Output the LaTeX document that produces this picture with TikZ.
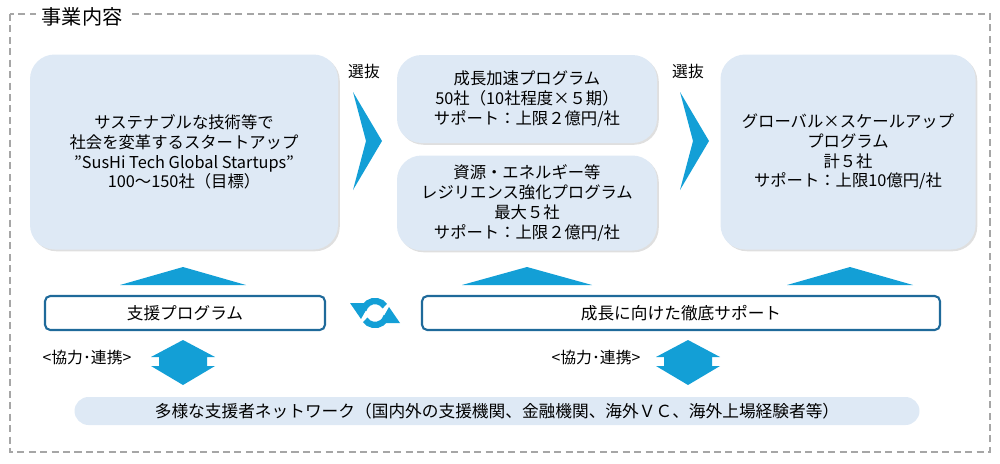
\documentclass[tikz,border=0pt]{standalone}
\usepackage{fontspec}
\setmainfont{Noto Sans CJK JP}
\usetikzlibrary{arrows.meta,shadows}
\definecolor{boxblue}{HTML}{DEE9F5}
\definecolor{arrblue}{HTML}{139FD6}
\definecolor{edgeblue}{HTML}{1F6A9A}
\tikzset{
  bigbox/.style={draw=none, fill=boxblue, rounded corners=14pt, drop shadow={opacity=0.25, shadow xshift=1pt, shadow yshift=-1pt}, align=center, font=\fontsize{9.3}{11.2}\selectfont},
  bar/.style={draw=edgeblue, line width=1.2pt, fill=white, rounded corners=3pt, font=\fontsize{9.5}{11}\selectfont},
  lbl/.style={font=\fontsize{9}{11}\selectfont},
  tri/.style={fill=arrblue, draw=none},
}
\begin{document}
\begin{tikzpicture}[x=0.02cm, y=-0.02cm]
\useasboundingbox (0,0) rectangle (1000,463);
% frame
\draw[gray!70, dashed, line width=1pt, dash pattern=on 4pt off 2.5pt] (10,14) rectangle (990,452);
\node[fill=white, font=\fontsize{11.5}{13}\selectfont, inner xsep=3pt] (title) at (82,17) {事業内容};
% boxes
\node[bigbox, minimum width=308*0.02cm, minimum height=195*0.02cm] (start) at (184,152)
  {サステナブルな技術等で\\社会を変革するスタートアップ\\”SusHi Tech Global Startups”\\100～150社（目標）};
\node[bigbox, minimum width=260*0.02cm, minimum height=88*0.02cm] (accel) at (527,99)
  {成長加速プログラム\\50社（10社程度×５期）\\サポート：上限２億円/社};
\node[bigbox, minimum width=260*0.02cm, minimum height=95*0.02cm] (resil) at (527,203)
  {資源・エネルギー等\\レジリエンス強化プログラム\\最大５社\\サポート：上限２億円/社};
\node[bigbox, minimum width=255*0.02cm, minimum height=195*0.02cm] (global) at (848,152)
  {グローバル×スケールアップ\\プログラム\\計５社\\サポート：上限10億円/社};
% chevrons
\fill[tri] (353,92) -- (382,141) -- (353,190) -- (366,141) -- cycle;
\fill[tri] (680,92) -- (709,141) -- (680,190) -- (693,141) -- cycle;
\node[lbl] (sel1) at (364,72) {選抜};
\node[lbl] (sel2) at (688,72) {選抜};
% up triangles
\fill[tri] (120,285) -- (183,267) -- (246,285) -- cycle;
\fill[tri] (462,285) -- (527,267) -- (592,285) -- cycle;
\fill[tri] (787,285) -- (850,267) -- (913,285) -- cycle;
% bars
\node[bar, minimum width=280*0.02cm, minimum height=34*0.02cm] (supp) at (185,313) {支援プログラム};
\node[bar, minimum width=518*0.02cm, minimum height=34*0.02cm] (grow) at (681,313) {成長に向けた徹底サポート};
% cycle icon
\coordinate (cyc) at (375,313);
\draw[arrblue, line width=3.6pt] ([shift={(35:12*0.02cm)}]cyc) arc[start angle=35, end angle=165, radius=12*0.02cm];
\draw[arrblue, line width=3.6pt] ([shift={(215:12*0.02cm)}]cyc) arc[start angle=215, end angle=345, radius=12*0.02cm];
\fill[arrblue] (350,303) -- (370,303) -- (361,319) -- cycle;
\fill[arrblue] (380,323) -- (400,323) -- (389,307) -- cycle;
% double arrows
\foreach \cx/\nm in {183/da1, 688/da2} {
  \fill[tri] (\cx,340) -- (\cx+32,357) -- (\cx+24,357) -- (\cx+24,366) -- (\cx+32,366)
    -- (\cx,385) -- (\cx-32,366) -- (\cx-24,366) -- (\cx-24,357) -- (\cx-32,357) -- cycle;
  \coordinate (\nm) at (\cx,362);
}
\node[lbl] (coop1) at (87,358) {<協力･連携>};
\node[lbl] (coop2) at (596,358) {<協力･連携>};
% network
\node[fill=boxblue, rounded corners=8pt, minimum width=845*0.02cm, minimum height=28*0.02cm, font=\fontsize{9.5}{11}\selectfont] (net) at (497,411)
  {多様な支援者ネットワーク（国内外の支援機関、金融機関、海外ＶＣ、海外上場経験者等）};
\end{tikzpicture}
\end{document}
